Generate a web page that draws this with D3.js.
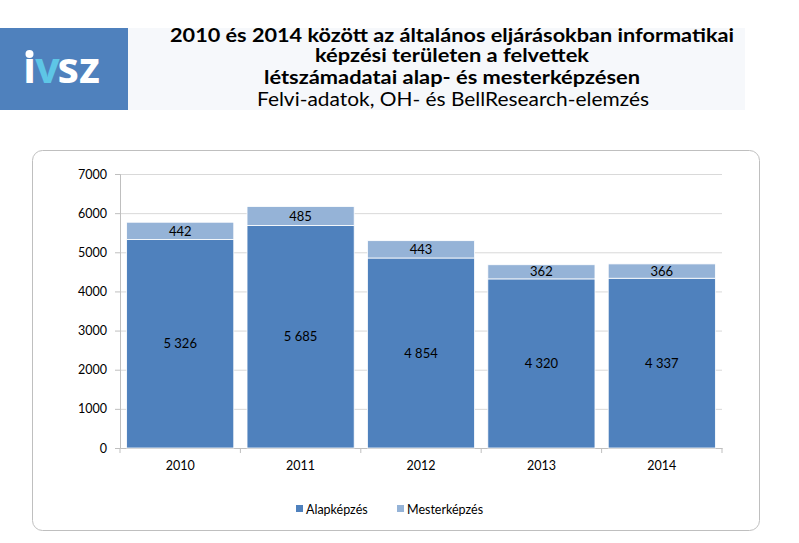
<!DOCTYPE html>
<html>
<head>
<meta charset="utf-8">
<script src="https://cdn.jsdelivr.net/npm/d3@7"></script>
<style>
  body { margin: 0; background: #fff; }
  text { font-family: Lato, "Open Sans", sans-serif; }
</style>
</head>
<body>
<div id="chart"></div>
<script>
// data
const years = ['2010', '2011', '2012', '2013', '2014'];
const alap = [5326, 5685, 4854, 4320, 4337];
const mester = [442, 485, 443, 362, 366];
const seriesNames = ['Alapképzés', 'Mesterképzés'];
const yTicks = [0, 1000, 2000, 3000, 4000, 5000, 6000, 7000];
const titleLines = [
    '2010 és 2014 között az általános eljárásokban informatikai',
    'képzési területen a felvettek',
    'létszámadatai  alap- és mesterképzésen'
];
const subtitle = 'Felvi-adatok, OH- és BellResearch-elemzés';

const width = 799, height = 543;
const colors = ['#4f81bd', '#95b3d7'];

const svg = d3.select('#chart')
    .append('svg')
    .attr('width', width)
    .attr('height', height);

// header band + logo
svg.append('rect').attr('x', 128).attr('y', 28).attr('width', 617).attr('height', 82).attr('fill', '#f6f8fb');
svg.append('rect').attr('x', 0).attr('y', 28).attr('width', 128).attr('height', 82).attr('fill', '#4f81bd');

const logo = svg.append('text')
    .attr('x', 23).attr('y', 83)
    .attr('font-size', 43).attr('font-weight', 'bold')
    .style('font-family', '"Open Sans", sans-serif');
logo.append('tspan').attr('fill', '#fff').text('ı');
logo.append('tspan').attr('fill', '#5ec6e6').attr('dx', -1).text('v');
logo.append('tspan').attr('fill', '#fff').attr('dx', -2).text('sz');
svg.append('circle').attr('cx', 29.5).attr('cy', 54).attr('r', 4).attr('fill', '#fff');

// title lines: baseline and width as measured on the reference
const titleY = [42, 62, 84];
const titleW = [564, 274, 376];
titleLines.forEach((t, i) => {
    svg.append('text')
        .attr('x', 452).attr('y', titleY[i])
        .attr('text-anchor', 'middle')
        .attr('font-size', 18).attr('font-weight', 'bold')
        .attr('fill', '#000')
        .attr('textLength', titleW[i])
        .attr('lengthAdjust', 'spacingAndGlyphs')
        .text(t);
});
svg.append('text')
    .attr('x', 453).attr('y', 106)
    .attr('text-anchor', 'middle')
    .attr('font-size', 19.5)
    .attr('fill', '#000')
    .attr('textLength', 392)
    .attr('lengthAdjust', 'spacingAndGlyphs')
    .text(subtitle);

// chart panel
svg.append('rect')
    .attr('x', 32.5).attr('y', 150.5)
    .attr('width', 727).attr('height', 380)
    .attr('rx', 10)
    .attr('fill', '#fff')
    .attr('stroke', '#bfbfbf');

const plot = { left: 120, right: 722, top: 174, bottom: 448 };

const x = d3.scaleBand()
    .domain(years)
    .range([plot.left, plot.right])
    .paddingInner(0.11)
    .paddingOuter(0.055);

const y = d3.scaleLinear()
    .domain([0, 7000])
    .range([plot.bottom, plot.top]);

// gridlines
svg.append('g')
    .selectAll('line')
    .data(yTicks.filter(d => d > 0))
    .enter()
    .append('line')
    .attr('x1', plot.left).attr('x2', plot.right)
    .attr('y1', d => y(d) + 0.5).attr('y2', d => y(d) + 0.5)
    .attr('stroke', '#d9d9d9');

// y axis
const yAxis = svg.append('g')
    .attr('transform', `translate(${plot.left},0)`)
    .call(d3.axisLeft(y).tickValues(yTicks).tickSize(5).tickPadding(8).tickFormat(d3.format('d')));
yAxis.select('.domain').attr('stroke', '#bfbfbf');
yAxis.selectAll('.tick line').attr('stroke', '#bfbfbf');
yAxis.selectAll('text').attr('font-size', 12.5).attr('fill', '#000').style('font-family', 'Lato, sans-serif');

// x axis
const xAxis = svg.append('g')
    .attr('transform', `translate(0,${plot.bottom})`)
    .call(d3.axisBottom(x).tickSize(0).tickPadding(13));
xAxis.select('.domain').attr('stroke', '#bfbfbf');
xAxis.selectAll('text').attr('font-size', 12.5).attr('fill', '#000').style('font-family', 'Lato, sans-serif');
// tick marks between categories
svg.append('g')
    .selectAll('line')
    .data(d3.range(years.length + 1))
    .enter()
    .append('line')
    .attr('x1', i => plot.left + i * (plot.right - plot.left) / years.length)
    .attr('x2', i => plot.left + i * (plot.right - plot.left) / years.length)
    .attr('y1', plot.bottom).attr('y2', plot.bottom + 5)
    .attr('stroke', '#bfbfbf');

// stacked bars
const rows = years.map((yr, i) => ({ year: yr, alap: alap[i], mester: mester[i] }));
const stack = d3.stack().keys(['alap', 'mester'])(rows);

const fmt = v => d3.format(',')(v).replace(',', ' ');

stack.forEach((layer, li) => {
    const g = svg.append('g');
    g.selectAll('rect')
        .data(layer)
        .enter()
        .append('rect')
        .attr('x', d => x(d.data.year))
        .attr('width', x.bandwidth())
        .attr('y', d => y(d[1]))
        .attr('height', d => y(d[0]) - y(d[1]))
        .attr('fill', colors[li])
        .attr('stroke', '#fff')
        .attr('stroke-width', 0.8);
    g.selectAll('text')
        .data(layer)
        .enter()
        .append('text')
        .attr('x', d => x(d.data.year) + x.bandwidth() / 2)
        .attr('y', d => (y(d[0]) + y(d[1])) / 2)
        .attr('dy', '0.36em')
        .attr('text-anchor', 'middle')
        .attr('font-size', 13)
        .attr('fill', '#000')
        .text(d => fmt(d[1] - d[0]));
});

// legend
const legend = svg.append('g').attr('transform', 'translate(296,509)');
const legX = [0, 101];
seriesNames.forEach((n, i) => {
    legend.append('rect')
        .attr('x', legX[i]).attr('y', -4)
        .attr('width', 7).attr('height', 7)
        .attr('fill', colors[i]);
    legend.append('text')
        .attr('x', legX[i] + 10).attr('y', 0)
        .attr('dy', '0.36em')
        .attr('font-size', 12.5)
        .attr('fill', '#000')
        .text(n);
});
</script>
</body>
</html>
